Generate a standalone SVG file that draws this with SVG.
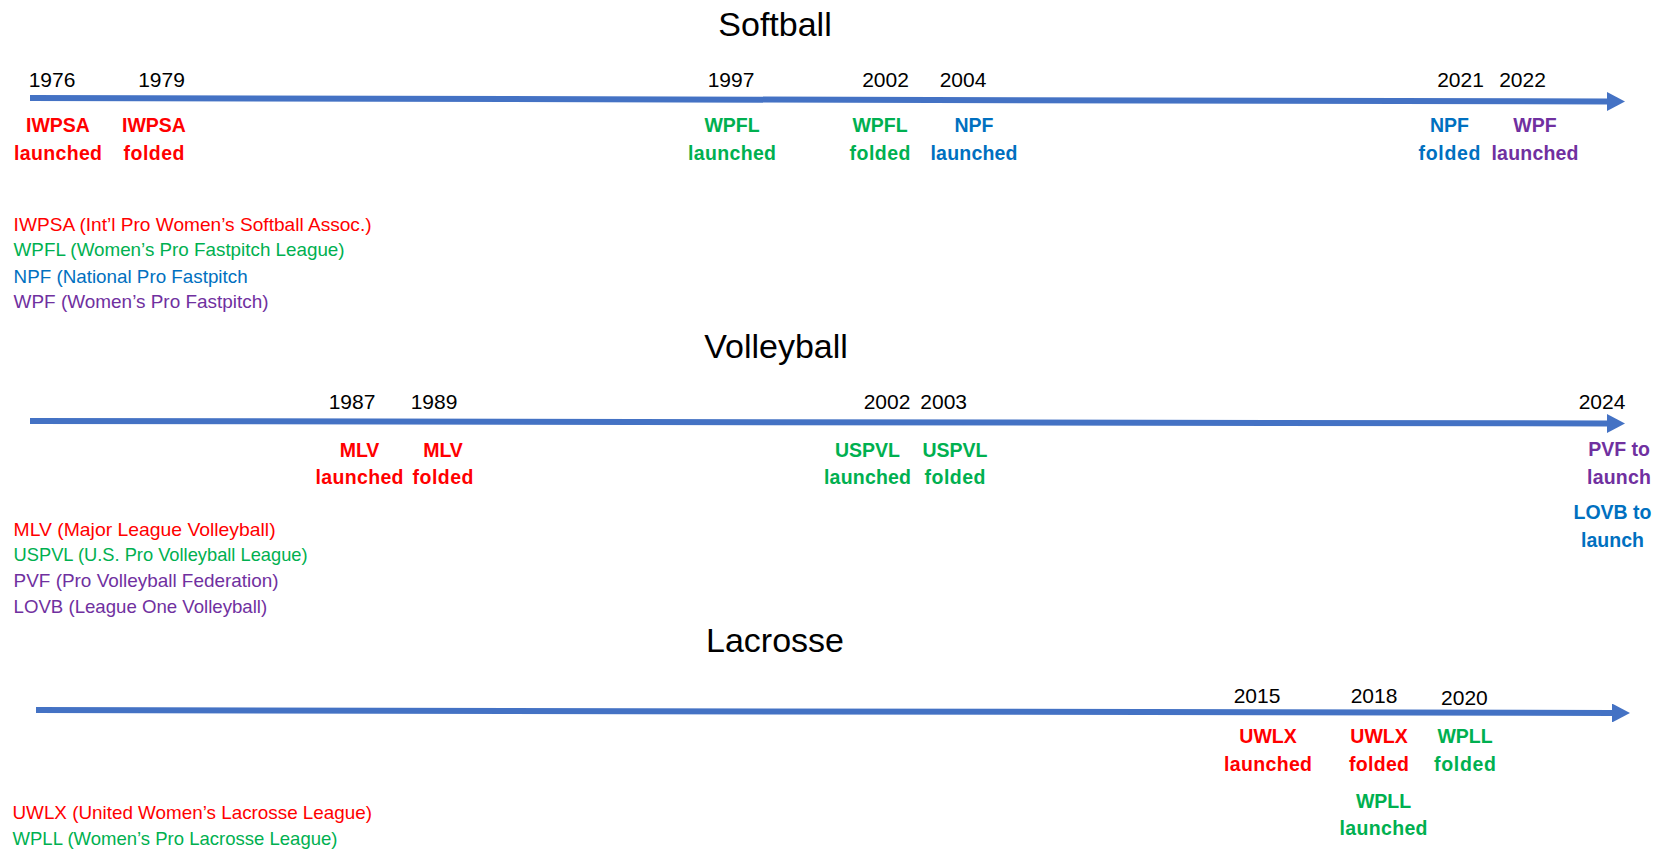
<svg xmlns="http://www.w3.org/2000/svg" width="1664" height="852" viewBox="0 0 1664 852">
<style>
text{font-family:"Liberation Sans",Arial,sans-serif}
.title{font-size:34px;fill:#000;text-anchor:middle}
.year{font-size:21px;fill:#000;text-anchor:middle}
.lbl{font-size:19.5px;font-weight:bold;text-anchor:middle}
.leg{font-size:18.5px}
.r{fill:#FF0000}.g{fill:#00B050}.b{fill:#0070C0}.p{fill:#7030A0}
.axis{stroke:#4472C4;stroke-width:6;fill:none}
</style>
<defs>
<marker id="ah" markerUnits="userSpaceOnUse" markerWidth="18" markerHeight="19" refX="0" refY="9.5" orient="auto"><path d="M0,0 L18,9.5 L0,19 Z" fill="#4472C4"/></marker>
</defs>
<rect width="1664" height="852" fill="#fff"/>
<g id="connectors">
<path class="axis" d="M30,98 L1607,101.5" marker-end="url(#ah)"/>
<path class="axis" d="M30,421 L1607,423.5" marker-end="url(#ah)"/>
<path class="axis" d="M36,710 L1612,713" marker-end="url(#ah)"/>
</g>
<!-- Softball -->
<g id="title-softball"><text class="title" x="775" y="36">Softball</text></g>
<g id="sb-1976"><text class="year" x="52" y="87.3">1976</text></g>
<g id="sb-1979"><text class="year" x="161.5" y="87.3">1979</text></g>
<g id="sb-1997"><text class="year" x="731" y="87.3">1997</text></g>
<g id="sb-2002"><text class="year" x="885.5" y="87.3">2002</text></g>
<g id="sb-2004"><text class="year" x="963" y="87.3">2004</text></g>
<g id="sb-2021"><text class="year" x="1460.5" y="87.3">2021</text></g>
<g id="sb-2022"><text class="year" x="1522.5" y="87.3">2022</text></g>
<g id="sb-iwpsa-launched" class="lbl r"><text x="58" y="132">IWPSA</text><text x="58" y="160" textLength="88">launched</text></g>
<g id="sb-iwpsa-folded" class="lbl r"><text x="154" y="132">IWPSA</text><text x="154" y="160" textLength="61">folded</text></g>
<g id="sb-wpfl-launched" class="lbl g"><text x="732" y="132">WPFL</text><text x="732" y="160" textLength="88">launched</text></g>
<g id="sb-wpfl-folded" class="lbl g"><text x="880" y="132">WPFL</text><text x="880" y="160" textLength="61">folded</text></g>
<g id="sb-npf-launched" class="lbl b"><text x="974" y="132">NPF</text><text x="974" y="160" textLength="87">launched</text></g>
<g id="sb-npf-folded" class="lbl b"><text x="1449.5" y="132">NPF</text><text x="1449.5" y="160" textLength="62">folded</text></g>
<g id="sb-wpf-launched" class="lbl p"><text x="1535" y="132">WPF</text><text x="1535" y="160" textLength="87">launched</text></g>
<g id="sb-legend" class="leg">
<text class="r" x="13.6" y="230.7" textLength="358" lengthAdjust="spacingAndGlyphs">IWPSA (Int’l Pro Women’s Softball Assoc.)</text>
<text class="g" x="13.6" y="256.3" textLength="331" lengthAdjust="spacingAndGlyphs">WPFL (Women’s Pro Fastpitch League)</text>
<text class="b" x="13.6" y="282.5" textLength="234" lengthAdjust="spacingAndGlyphs">NPF (National Pro Fastpitch</text>
<text class="p" x="13.6" y="308.3" textLength="255" lengthAdjust="spacingAndGlyphs">WPF (Women’s Pro Fastpitch)</text>
</g>
<!-- Volleyball -->
<g id="title-volleyball"><text class="title" x="776" y="358.3">Volleyball</text></g>
<g id="vb-1987"><text class="year" x="352" y="408.5">1987</text></g>
<g id="vb-1989"><text class="year" x="434" y="408.5">1989</text></g>
<g id="vb-2002"><text class="year" x="887" y="408.5">2002</text></g>
<g id="vb-2003"><text class="year" x="943.7" y="408.5">2003</text></g>
<g id="vb-2024"><text class="year" x="1602" y="408.5">2024</text></g>
<g id="vb-mlv-launched" class="lbl r"><text x="359.5" y="456.5">MLV</text><text x="359.5" y="484.3" textLength="88">launched</text></g>
<g id="vb-mlv-folded" class="lbl r"><text x="443" y="456.5">MLV</text><text x="443" y="484.3" textLength="61">folded</text></g>
<g id="vb-uspvl-launched" class="lbl g"><text x="867.5" y="456.5">USPVL</text><text x="867.5" y="484.3" textLength="87">launched</text></g>
<g id="vb-uspvl-folded" class="lbl g"><text x="955" y="456.5">USPVL</text><text x="955" y="484.3" textLength="61">folded</text></g>
<g id="vb-pvf-launch" class="lbl p"><text x="1619" y="456">PVF to</text><text x="1619" y="484" textLength="64">launch</text></g>
<g id="vb-lovb-launch" class="lbl b"><text x="1612.5" y="519.3">LOVB to</text><text x="1612.5" y="546.7" textLength="63">launch</text></g>
<g id="vb-legend" class="leg">
<text class="r" x="13.6" y="536" textLength="262" lengthAdjust="spacingAndGlyphs">MLV (Major League Volleyball)</text>
<text class="g" x="13.6" y="560.7" textLength="294" lengthAdjust="spacingAndGlyphs">USPVL (U.S. Pro Volleyball League)</text>
<text class="p" x="13.6" y="586.7" textLength="265" lengthAdjust="spacingAndGlyphs">PVF (Pro Volleyball Federation)</text>
<text class="p" x="13.6" y="612.7" textLength="253.6" lengthAdjust="spacingAndGlyphs">LOVB (League One Volleyball)</text>
</g>
<!-- Lacrosse -->
<g id="title-lacrosse"><text class="title" x="775" y="652">Lacrosse</text></g>
<g id="lx-2015"><text class="year" x="1257" y="703.3">2015</text></g>
<g id="lx-2018"><text class="year" x="1374" y="702.7">2018</text></g>
<g id="lx-2020"><text class="year" x="1464.4" y="705">2020</text></g>
<g id="lx-uwlx-launched" class="lbl r"><text x="1268" y="743.3">UWLX</text><text x="1268" y="771" textLength="88">launched</text></g>
<g id="lx-uwlx-folded" class="lbl r"><text x="1379" y="743.3">UWLX</text><text x="1379" y="771" textLength="60">folded</text></g>
<g id="lx-wpll-folded" class="lbl g"><text x="1465" y="743.3">WPLL</text><text x="1465" y="771" textLength="62">folded</text></g>
<g id="lx-wpll-launched" class="lbl g"><text x="1383.5" y="807.7">WPLL</text><text x="1383.5" y="835" textLength="88">launched</text></g>
<g id="lx-legend" class="leg">
<text class="r" x="12.5" y="819.3" textLength="359.5" lengthAdjust="spacingAndGlyphs">UWLX (United Women’s Lacrosse League)</text>
<text class="g" x="12.5" y="845.3" textLength="325" lengthAdjust="spacingAndGlyphs">WPLL (Women’s Pro Lacrosse League)</text>
</g>
</svg>
